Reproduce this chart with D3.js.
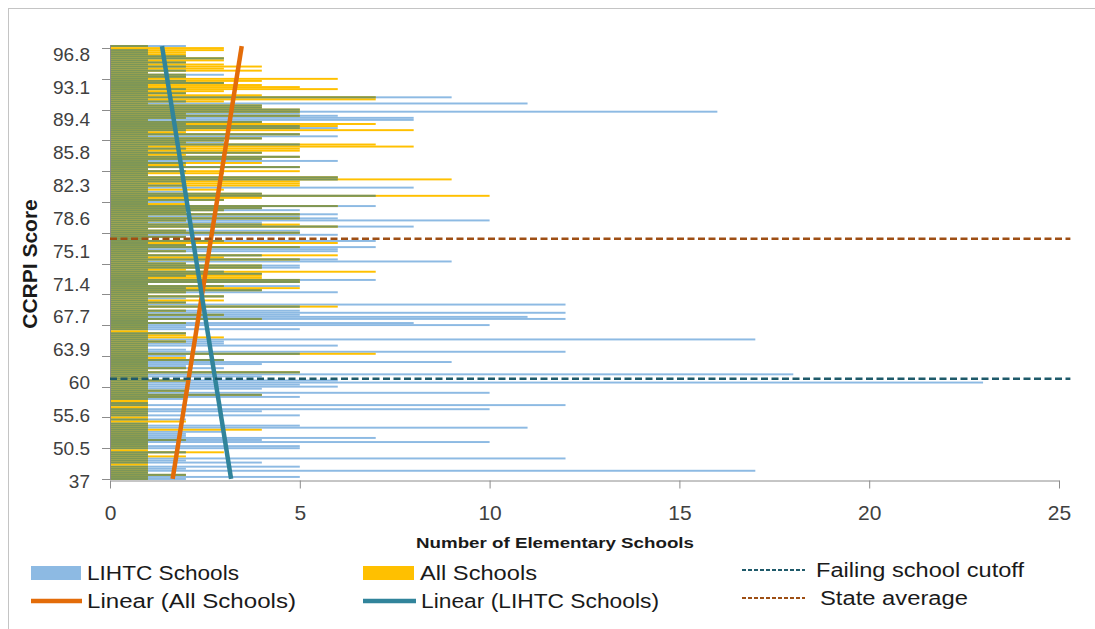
<!DOCTYPE html>
<html>
<head>
<meta charset="utf-8">
<title>CCRPI Score by Number of Elementary Schools</title>
<script src="https://cdn.jsdelivr.net/npm/d3@7"></script>
<style>
body {
  margin: 0;
  background: #fff;
}
svg {
  display: block;
  font-family: "Liberation Sans", Arial, sans-serif;
}
.ytick { font-size: 19px; fill: #404040; }
.xaxis text { font-size: 21px; fill: #404040; font-family: "Liberation Sans", Arial, sans-serif; }
.xaxis path, .xaxis line { stroke: #8c8c8c; }
.legend text { font-size: 20px; fill: #1a1a1a; }
.title { font-weight: bold; fill: #1a1a1a; }
</style>
</head>
<body>
<script>

// counts per CCRPI score row, bottom row (37) first, 16 rows per line
var lihtc = [
  2,5,2,1,17,2,5,0,4,2,12,1,1,2,0,5,
  5,1,10,4,7,2,2,3,1,11,5,1,0,2,0,5,
  1,4,10,0,12,1,0,2,5,4,10,2,4,6,5,23,
  6,1,4,18,5,1,3,2,4,9,3,1,2,5,12,2,
  1,6,3,3,17,1,1,2,0,5,2,10,8,1,12,11,
  5,12,5,1,5,12,2,1,2,3,1,6,4,2,5,1,
  5,7,1,2,4,3,1,5,5,2,9,6,1,4,1,6,
  6,7,2,1,7,1,2,6,5,5,1,8,4,4,10,6,
  5,6,2,5,4,7,1,2,3,1,7,4,2,1,8,2,
  1,2,6,6,1,1,2,1,5,1,2,6,4,5,1,4,
  1,2,1,5,3,3,4,6,5,1,2,6,5,2,4,8,
  8,6,5,16,5,4,4,11,2,1,9,1,2,1,2,1,
  1,3,2,1,2,3,1,2,1,2,1,2,1,3,2,1,
  1,1,0,2
];
var allSchools = [
  1,1,2,1,1,1,1,1,1,1,1,2,1,3,1,1,
  1,1,1,2,1,1,1,1,4,1,1,1,2,1,1,1,
  1,1,1,1,1,1,1,1,2,4,1,2,1,1,1,1,
  2,1,1,1,5,1,2,1,1,1,3,2,1,7,1,1,
  1,1,1,2,1,3,2,2,1,1,1,1,2,1,4,1,
  3,1,2,1,6,1,2,3,1,3,1,2,4,5,3,1,
  5,5,4,4,4,7,2,4,4,2,1,5,3,6,1,2,
  1,5,2,6,3,1,2,1,5,2,1,6,5,1,2,5,
  1,5,2,3,4,6,2,1,3,4,10,4,1,3,1,5,
  5,5,9,6,1,3,5,1,5,2,4,1,4,5,2,4,
  5,5,8,7,2,3,4,1,5,2,8,5,6,7,4,1,
  2,5,2,5,5,4,4,1,3,7,7,4,2,3,6,5,
  4,3,4,6,2,2,1,4,3,4,3,2,3,3,2,2,
  2,3,3,1
];

// category labels shown on the axis (every 16th row)
var scoreLabels = ["37", "50.5", "55.6", "60", "63.9", "67.7", "71.4",
                   "75.1", "78.6", "82.3", "85.8", "89.4", "93.1", "96.8"];
var xTicks = [0, 5, 10, 15, 20, 25];

// linear trendlines: value at first row, value at last row
var trendAll = [1.65, 3.47];
var trendLihtc = [3.19, 1.37];

// reference lines (CCRPI score)
var refNames = ["Failing school cutoff", "State average"];
var refScores = [60.2, 76.2];

var legendNames = ["LIHTC Schools", "All Schools", "Failing school cutoff",
                   "Linear (All Schools)", "Linear (LIHTC Schools)", "State average"];

var width = 1095, height = 629;
var blue = "#8dbae3", gold = "#ffc000", olive = "#7c9658";
var orange = "#e36c09", teal = "#31849b";
var refColors = ["#1f5a6a", "#9e4f14"];

var svg = d3.select("body").append("svg")
    .attr("width", width)
    .attr("height", height);

// chart frame
svg.append("rect")
    .attr("x", 8.5).attr("y", 8.5)
    .attr("width", width + 10).attr("height", height + 10)
    .attr("fill", "none")
    .attr("stroke", "#c4c4c4");

var rows = d3.range(lihtc.length);
var x = d3.scaleLinear().domain([0, 25]).range([110, 1059]);
var y = d3.scaleBand().domain(rows).range([480, 45]);
var bw = y.bandwidth();
var barH = bw * 0.95;
var off = (bw - barH) / 2;

// score -> y through the labelled rows
var labelRows = scoreLabels.map(function(d, i) { return i * 16; });
var scoreY = d3.scaleLinear()
    .domain(scoreLabels.map(Number))
    .range(labelRows.map(function(r) { return y(r) + bw / 2; }));

var layerBlue = svg.append("g");
var layerGold = svg.append("g");
var layerBoth = svg.append("g");

layerBlue.selectAll("rect")
    .data(rows.filter(function(i) { return lihtc[i] > 0; }))
  .enter().append("rect")
    .attr("x", x(0))
    .attr("y", function(i) { return y(i) + off; })
    .attr("width", function(i) { return x(lihtc[i]) - x(0); })
    .attr("height", barH)
    .attr("fill", blue);

layerGold.selectAll("rect")
    .data(rows.filter(function(i) { return allSchools[i] > 0; }))
  .enter().append("rect")
    .attr("x", x(0))
    .attr("y", function(i) { return y(i) + off; })
    .attr("width", function(i) { return x(allSchools[i]) - x(0); })
    .attr("height", barH)
    .attr("fill", gold);

// where both series overlap
layerBoth.selectAll("rect")
    .data(rows.filter(function(i) { return lihtc[i] > 0 && allSchools[i] > 0; }))
  .enter().append("rect")
    .attr("x", x(0))
    .attr("y", function(i) { return y(i) + off; })
    .attr("width", function(i) { return x(Math.min(lihtc[i], allSchools[i])) - x(0); })
    .attr("height", barH)
    .attr("fill", olive);

// y axis
var yAxis = svg.append("g");
yAxis.append("line")
    .attr("x1", 110.5).attr("x2", 110.5)
    .attr("y1", 45).attr("y2", 480)
    .attr("stroke", "#8c8c8c");
yAxis.selectAll("line.tk")
    .data(rows.filter(function(i) { return i % 15 === 0; }))
  .enter().append("line")
    .attr("class", "tk")
    .attr("x1", 102).attr("x2", 110)
    .attr("y1", function(i) { return Math.round(y(i) + bw) - 0.5; })
    .attr("y2", function(i) { return Math.round(y(i) + bw) - 0.5; })
    .attr("stroke", "#8c8c8c");
yAxis.selectAll("text")
    .data(scoreLabels)
  .enter().append("text")
    .attr("class", "ytick")
    .attr("x", 90)
    .attr("y", function(d, i) { return y(labelRows[i]) + bw / 2 + 2; })
    .attr("dy", "0.35em")
    .attr("text-anchor", "end")
    .text(function(d) { return d; });

// x axis
svg.append("g")
    .attr("class", "xaxis")
    .attr("transform", "translate(0,480.5)")
    .call(d3.axisBottom(x).tickValues(xTicks).tickSize(8).tickSizeOuter(0).tickPadding(17))
    .call(function(g) { g.select(".domain").attr("stroke", "#8c8c8c"); });

// trendlines
var line = d3.line()
    .x(function(d) { return x(d[1]); })
    .y(function(d) { return y(d[0]) + bw / 2; });
svg.append("path")
    .attr("d", line([[0, trendAll[0]], [rows.length - 1, trendAll[1]]]))
    .attr("stroke", orange).attr("stroke-width", 4.5).attr("fill", "none");
svg.append("path")
    .attr("d", line([[0, trendLihtc[0]], [rows.length - 1, trendLihtc[1]]]))
    .attr("stroke", teal).attr("stroke-width", 4.5).attr("fill", "none");

// reference lines
svg.selectAll("line.ref")
    .data(refScores)
  .enter().append("line")
    .attr("class", "ref")
    .attr("x1", x(0)).attr("x2", x(25.3))
    .attr("y1", function(d) { return scoreY(d); })
    .attr("y2", function(d) { return scoreY(d); })
    .attr("stroke", function(d, i) { return refColors[i]; })
    .attr("stroke-width", 2.5)
    .attr("stroke-dasharray", "7,3.5");

// axis titles
svg.append("text")
    .attr("class", "title")
    .attr("transform", "translate(37,264) rotate(-90)")
    .attr("text-anchor", "middle")
    .style("font-size", "21px")
    .text("CCRPI Score");
svg.append("text")
    .attr("class", "title")
    .attr("x", 416).attr("y", 548)
    .attr("textLength", 278)
    .attr("lengthAdjust", "spacingAndGlyphs")
    .style("font-size", "15px")
    .text("Number of Elementary Schools");

// legend
var legend = svg.append("g").attr("class", "legend");
var lx = [31, 363, 742, 31, 363, 742];
var lw = [50, 51, 63, 51, 53, 63];
var ly = [573, 573, 570, 601, 601, 598];
var tx = [87, 420, 816, 87, 421, 820];
var tw = [152, 117, 208, 209, 238, 148];

legendNames.forEach(function(name, i) {
  if (i < 2) {
    legend.append("rect")
      .attr("x", lx[i]).attr("y", ly[i] - 7)
      .attr("width", lw[i]).attr("height", 14)
      .attr("fill", i === 0 ? blue : gold);
  } else {
    var isRef = (i === 2 || i === 5);
    legend.append("line")
      .attr("x1", lx[i]).attr("x2", lx[i] + lw[i])
      .attr("y1", ly[i]).attr("y2", ly[i])
      .attr("stroke", isRef ? refColors[i === 2 ? 0 : 1] : (i === 3 ? orange : teal))
      .attr("stroke-width", isRef ? 1.8 : 4.5)
      .attr("stroke-dasharray", isRef ? "4,2" : null);
  }
  legend.append("text")
    .attr("x", tx[i]).attr("y", ly[i] + 7)
    .attr("textLength", tw[i])
    .attr("lengthAdjust", "spacingAndGlyphs")
    .text(name);
});

</script>
</body>
</html>
